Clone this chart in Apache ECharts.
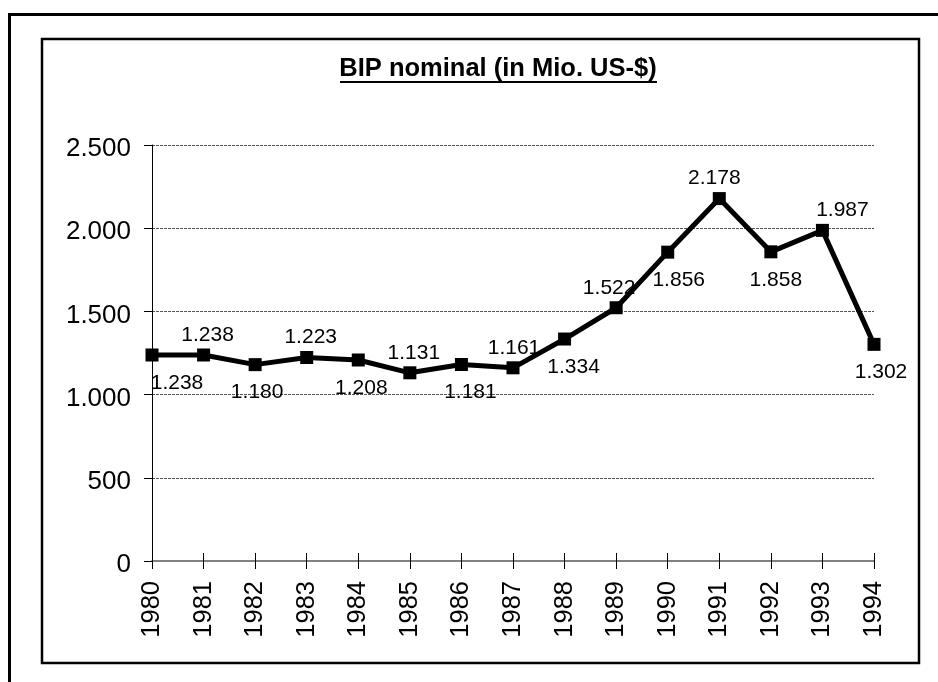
<!DOCTYPE html>
<html>
<head>
<meta charset="utf-8">
<script src="https://cdn.jsdelivr.net/npm/echarts@6/dist/echarts.min.js"></script>
<style>
  html, body { margin: 0; padding: 0; background: #fff; }
  #chart { width: 938px; height: 682px; }
</style>
</head>
<body>
<div id="chart"></div>
<script>
const years = ['1980', '1981', '1982', '1983', '1984', '1985', '1986', '1987',
  '1988', '1989', '1990', '1991', '1992', '1993', '1994']
const bip = [1238, 1238, 1180, 1223, 1208, 1131, 1181, 1161, 1334, 1522, 1856, 2178, 1858, 1987, 1302]
const yTicks = { min: 0, max: 2500, interval: 500 }
const titleText = 'BIP nominal (in Mio. US-$)'

// label nudges (Excel shifts some of them)
const labelShift = [25, 4, 2, 4, 3, 4, 9, 1, 9, -7, 11, -5, 5, 20, 7]

const fmt = v => {
  const s = String(Math.round(v))
  return s.length > 3 ? s.slice(0, -3) + '.' + s.slice(-3) : s
}

const chart = echarts.init(document.getElementById('chart'))
const font = 'Liberation Sans, Arial, sans-serif'

chart.setOption({
  backgroundColor: '#fff',
  animation: false,
  textStyle: { fontFamily: font },
  graphic: [
    {
      type: 'rect',
      shape: { x: 9.5, y: 14.5, width: 960, height: 700 },
      style: { fill: null, stroke: '#000', lineWidth: 3 }
    },
    {
      type: 'rect',
      shape: { x: 42, y: 39, width: 877, height: 624 },
      style: { fill: null, stroke: '#000', lineWidth: 2.5 }
    },
    {
      type: 'text',
      x: 498,
      y: 69,
      style: {
        text: titleText,
        font: 'bold 25.5px ' + font,
        fill: '#000',
        align: 'center',
        verticalAlign: 'middle'
      }
    },
    {
      type: 'line',
      shape: { x1: 340, y1: 82, x2: 657, y2: 82 },
      style: { stroke: '#000', lineWidth: 2 }
    }
  ],
  grid: {
    left: 152,
    right: 64,
    top: 145,
    bottom: 121,
    containLabel: false
  },
  xAxis: [
    {
      type: 'category',
      data: years,
      boundaryGap: false,
      axisLine: { lineStyle: { color: '#808080', width: 2 } },
      axisTick: { show: true, inside: false, length: 8, lineStyle: { color: '#000' } },
      axisLabel: { rotate: 90, margin: 20, fontSize: 25.5, color: '#000', fontFamily: font },
      splitLine: { show: false }
    },
    {
      type: 'category',
      data: years,
      position: 'bottom',
      boundaryGap: false,
      axisLine: { show: false },
      axisTick: { show: true, inside: true, length: 8, lineStyle: { color: '#000' } },
      axisLabel: { show: false },
      splitLine: { show: false }
    }
  ],
  yAxis: {
    type: 'value',
    min: yTicks.min,
    max: yTicks.max,
    interval: yTicks.interval,
    axisLine: { show: true, lineStyle: { color: '#000', width: 1 } },
    axisTick: { show: true, length: 8, lineStyle: { color: '#000' } },
    axisLabel: {
      fontSize: 26,
      color: '#000',
      margin: 21,
      verticalAlign: 'top',
      lineHeight: 8,
      fontFamily: font,
      formatter: fmt
    },
    splitLine: { show: true, lineStyle: { color: '#555', type: [3, 1], width: 1 } }
  },
  series: [{
    type: 'line',
    data: bip.map((v, i) => ({
      value: v,
      label: {
        position: i % 2 === 0 ? 'bottom' : 'top',
        distance: i % 2 === 0 ? 11 : 3,
        offset: [labelShift[i], 0]
      }
    })),
    symbol: 'rect',
    symbolSize: 13,
    showAllSymbol: true,
    lineStyle: { color: '#000', width: 5 },
    itemStyle: { color: '#000' },
    label: {
      show: true,
      fontSize: 21,
      color: '#000',
      fontFamily: font,
      formatter: p => fmt(p.value)
    },
    z: 5
  }]
})
</script>
</body>
</html>
